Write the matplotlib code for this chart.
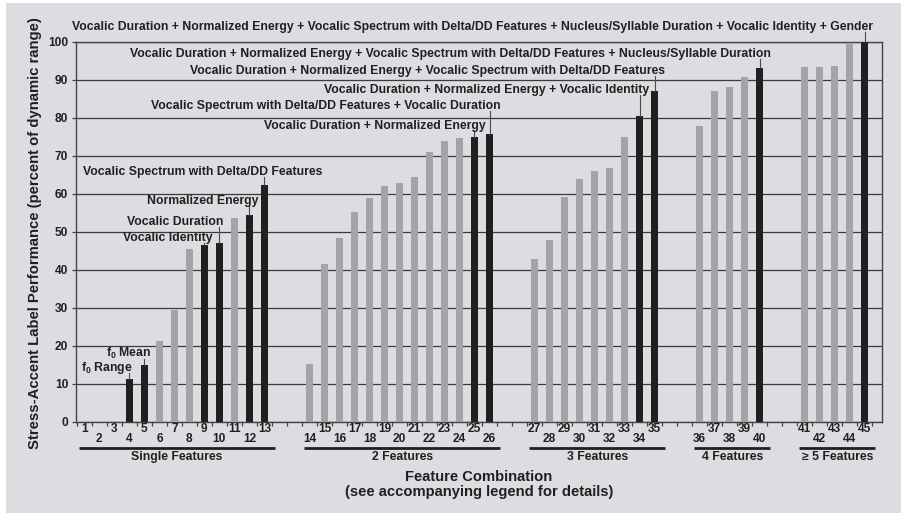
import matplotlib
matplotlib.use("Agg")
import matplotlib.pyplot as plt
from matplotlib.patches import Rectangle
from matplotlib.ticker import FixedLocator, NullLocator

plt.rcParams["font.family"] = ["Liberation Sans", "DejaVu Sans"]
plt.rcParams["font.weight"] = "bold"
plt.rcParams["mathtext.fontset"] = "custom"
plt.rcParams["mathtext.rm"] = "Liberation Sans:bold"
plt.rcParams["mathtext.bf"] = "Liberation Sans:bold"

# ---- data -------------------------------------------------------------
feature_ids = list(range(1, 46))
performance = [
    0, 0, 0, 11.3, 14.9, 21.3, 29.5, 45.5, 46.5, 47.0, 53.6, 54.4, 62.3,          # single
    15.2, 41.5, 48.4, 55.2, 58.9, 62.1, 62.8, 64.4, 71.0, 73.9, 74.7, 75.0, 75.8,  # 2 features
    42.8, 47.8, 59.2, 63.9, 66.0, 66.8, 75.0, 80.5, 87.1,                          # 3 features
    77.9, 87.1, 88.1, 90.8, 93.2,                                                  # 4 features
    93.4, 93.4, 93.7, 99.5, 100.0,                                                 # >=5 features
]
highlighted = [4, 5, 9, 10, 12, 13, 25, 26, 34, 35, 40, 45]
group_names = ["Single Features", "2 Features", "3 Features", "4 Features", "\u2265 5 Features"]
group_sizes = [13, 13, 9, 5, 5]

annotation_ids = [4, 5, 9, 10, 12, 13, 25, 26, 34, 35, 40, 45]
annotation_texts = [
    r"f$_{\mathbf{0}}$ Range",
    r"f$_{\mathbf{0}}$ Mean",
    "Vocalic Identity",
    "Vocalic Duration",
    "Normalized Energy",
    "Vocalic Spectrum with Delta/DD Features",
    "Vocalic Duration + Normalized Energy",
    "Vocalic Spectrum with Delta/DD Features + Vocalic Duration",
    "Vocalic Duration + Normalized Energy + Vocalic Identity",
    "Vocalic Duration + Normalized Energy + Vocalic Spectrum with Delta/DD Features",
    "Vocalic Duration + Normalized Energy + Vocalic Spectrum with Delta/DD Features + Nucleus/Syllable Duration",
    "Vocalic Duration + Normalized Energy + Vocalic Spectrum with Delta/DD Features + Nucleus/Syllable Duration + Vocalic Identity + Gender",
]

# ---- layout -----------------------------------------------------------
GAP = 2  # empty slots between groups
positions = []
group_spans = []   # (first index, last index) into feature_ids
slot = 0
for size in group_sizes:
    first = len(positions)
    for _ in range(size):
        positions.append(slot)
        slot += 1
    group_spans.append((first, len(positions) - 1))
    slot += GAP

# label anchor (x in slots, y in value units, horizontal alignment)
label_layout = [
    (1.49, 14.1, "center"),
    (2.94, 17.8, "center"),
    (5.57, 48.4, "center"),
    (6.04, 52.6, "center"),
    (7.90, 58.1, "center"),
    (7.89, 65.8, "center"),
    (26.75, 77.9, "right"),
    (27.77, 83.2, "right"),
    (37.65, 87.4, "right"),
    (38.72, 92.4, "right"),
    (45.75, 96.9, "right"),
    (52.54, 104.0, "right"),
]

BG = "#dcdde0"
GRAY = "#a3a4a8"
DARK = "#231f20"
TEXT = "#231f20"

W, H = 901, 513
fig = plt.figure(figsize=(W / 100, H / 100), dpi=100, facecolor="white")
fig.patches.append(Rectangle((6 / W, 0), 1, 1 - 3 / H, transform=fig.transFigure,
                             facecolor=BG, edgecolor="none", zorder=-10))

ax = fig.add_axes([76 / W, (H - 421.5) / H, 806 / W, 379.5 / H])
ax.set_facecolor("none")

colors = [DARK if fid in highlighted else GRAY for fid in feature_ids]
ax.bar(positions, performance, width=0.46, color=colors, zorder=3)

ax.set_xlim(-0.56, 53.16)
ax.set_ylim(0, 100)
ax.set_yticks(range(0, 101, 10))
ax.tick_params(axis="y", length=3, width=0.9, color="#444444", pad=2.5,
               labelsize=8.6, labelcolor=TEXT)
for lbl in ax.get_yticklabels():
    lbl.set_fontweight("bold")
ax.xaxis.set_major_locator(NullLocator())
ax.xaxis.set_minor_locator(FixedLocator([k + 0.5 for k in range(-1, 53)]))
ax.tick_params(axis="x", which="minor", length=3, width=0.9, color="#444444")

ax.yaxis.grid(True, color="#3a3a3a", linewidth=0.9, zorder=0)
ax.set_axisbelow(True)
for sp in ax.spines.values():
    sp.set_color("#444444")
    sp.set_linewidth(1.0)

ax.set_ylabel("Stress-Accent Label Performance (percent of dynamic range)",
              fontsize=10.7, fontweight="bold", color=TEXT)
ax.yaxis.set_label_coords(-0.0422, 0.497)

# feature numbers, staggered in two rows
for fid, x in zip(feature_ids, positions):
    dy = -7.5 if fid % 2 else -17.5
    ax.annotate(str(fid), xy=(x, 0), xycoords=("data", "axes fraction"),
                xytext=(0, dy), textcoords="offset pixels",
                ha="center", va="center", fontsize=8.6, fontweight="bold",
                color=TEXT, annotation_clip=False)

# group underlines and names
for name, (a, b) in zip(group_names, group_spans):
    x0, x1 = positions[a] - 0.35, positions[b] + 0.7
    ax.plot([x0, x1], [-7.0, -7.0], color=DARK, lw=2.0, clip_on=False,
            solid_capstyle="butt")
    ax.text((x0 + x1) / 2, -9.45, name, ha="center", va="center",
            fontsize=8.8, fontweight="bold", color=TEXT, clip_on=False)

fig.text(479 / W, 1 - 477 / H, "Feature Combination", ha="center", va="center",
         fontsize=10.6, fontweight="bold", color=TEXT)
fig.text(479 / W, 1 - 492 / H, "(see accompanying legend for details)",
         ha="center", va="center", fontsize=10.6, fontweight="bold", color=TEXT)

# callouts for the highlighted feature combinations
for fid, text, (lx, ly, ha) in zip(annotation_ids, annotation_texts, label_layout):
    idx = feature_ids.index(fid)
    bx, by = positions[idx], performance[idx]
    ax.plot([bx, bx], [by, ly - 1.4], color="#4a4a4a", lw=0.8,
            clip_on=False, zorder=4)
    ax.text(lx, ly, text, ha=ha, va="center", fontsize=8.8,
            fontweight="bold", color=TEXT, clip_on=False, zorder=5)

fig.savefig("out.png", dpi=100, facecolor="white")
